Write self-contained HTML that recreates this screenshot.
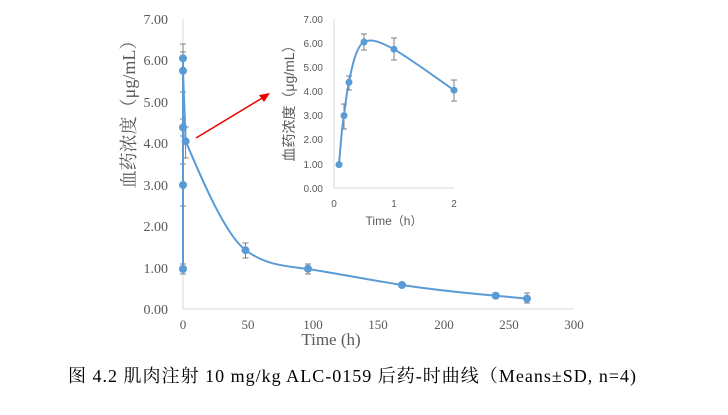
<!DOCTYPE html>
<html><head><meta charset="utf-8"><style>
body{margin:0;background:#fff;width:728px;height:410px;overflow:hidden}
</style></head><body>
<svg width="728" height="410" xmlns="http://www.w3.org/2000/svg" font-family="'Liberation Serif','Noto Serif CJK SC',serif">
<g fill="#595959" font-size="14" text-anchor="end">
<text x="168" y="314">0.00</text><text x="168" y="273">1.00</text><text x="168" y="231">2.00</text>
<text x="168" y="190">3.00</text><text x="168" y="148">4.00</text><text x="168" y="107">5.00</text>
<text x="168" y="65">6.00</text><text x="168" y="24">7.00</text>
</g>
<g fill="#595959" font-size="13" text-anchor="middle">
<text x="183" y="329">0</text><text x="248" y="329">50</text><text x="313" y="329">100</text>
<text x="378" y="329">150</text><text x="444" y="329">200</text><text x="509" y="329">250</text><text x="574" y="329">300</text>
</g>
<text x="331" y="345" font-size="17" fill="#595959" text-anchor="middle">Time (h)</text>
<text transform="translate(135,110) rotate(-90)" font-size="18" fill="#595959" text-anchor="middle">血药浓度（μg/mL）</text>
<line x1="183" y1="19" x2="183" y2="309" stroke="#d9d9d9"/>
<line x1="183" y1="309" x2="574" y2="309" stroke="#d9d9d9"/>
<g stroke="#7f7f7f" stroke-width="1">
<path d="M183 264v10M180 264h6M180 274h6M183 164v42M180 164h6M180 206h6M183 119v17M180 119h6M180 136h6M183 44v28M180 44h6M180 72h6M183 52v40M180 52h6M180 92h6M185.6 127v31M182.6 127h6M182.6 158h6M245.5 243v15M242.5 243h6M242.5 258h6M308 264v10M305 264h6M305 274h6M495.7 293v5M492.7 293h6M492.7 298h6M527 293v10M524 293h6M524 303h6"/>
</g>
<path d="M183 269 L183 185 L183 127 L183 58 L183 71 L185.6 141 C200 175 225 235 245.5 250 C265 265 285 266 308 269 C340 274 370 280 402 285 C435 290 465 293 495.7 295.7 L527 298.6" fill="none" stroke="#5b9bd5" stroke-width="2"/>
<g fill="#5b9bd5">
<circle cx="183" cy="269" r="4"/><circle cx="183" cy="185" r="4"/><circle cx="183" cy="127.5" r="4"/>
<circle cx="183" cy="58.3" r="4"/><circle cx="183" cy="70.8" r="4"/><circle cx="185.6" cy="141.2" r="4"/>
<circle cx="245.5" cy="250.2" r="4"/><circle cx="308" cy="268.8" r="4"/><circle cx="402" cy="285" r="4"/>
<circle cx="495.7" cy="295.7" r="4"/><circle cx="527" cy="298.6" r="4"/>
</g>
<line x1="196" y1="138" x2="264" y2="97" stroke="#e00" stroke-width="1.5"/>
<polygon points="270,93 259,95 264,102" fill="#e00"/>
<g font-family="'Liberation Sans',sans-serif" fill="#595959" font-size="10" text-anchor="end">
<text x="323" y="192">0.00</text><text x="323" y="168">1.00</text><text x="323" y="143">2.00</text>
<text x="323" y="119">3.00</text><text x="323" y="95">4.00</text><text x="323" y="71">5.00</text>
<text x="323" y="47">6.00</text><text x="323" y="23">7.00</text>
</g>
<g font-family="'Liberation Sans',sans-serif" fill="#595959" font-size="10" text-anchor="middle">
<text x="334" y="207">0</text><text x="394" y="207">1</text><text x="454" y="207">2</text>
</g>
<text x="394" y="225" font-family="'Liberation Sans','Noto Sans CJK SC',sans-serif" font-size="12" fill="#595959" text-anchor="middle">Time（h）</text>
<text transform="translate(294,100) rotate(-90)" font-family="'Liberation Sans','Noto Sans CJK SC',sans-serif" font-size="14" fill="#595959" text-anchor="middle">血药浓度（μg/mL）</text>
<line x1="334" y1="19" x2="334" y2="188" stroke="#d9d9d9"/>
<line x1="334" y1="188" x2="454" y2="188" stroke="#d9d9d9"/>
<g stroke="#7f7f7f">
<path d="M344 104v25M341 104h6M341 129h6M349 76v14M346 76h6M346 90h6M364 34v16M361 34h6M361 50h6M394 38v22M391 38h6M391 60h6M454 80v21M451 80h6M451 101h6"/>
</g>
<path d="M339 164.6 C341 140 342 125 344 115.6 C346 100 347 90 349 82.3 C353 60 358 45 364 42 C372 38 380 42 394 49.2 C415 62 435 77 454 90.2" fill="none" stroke="#5b9bd5" stroke-width="2"/>
<g fill="#5b9bd5">
<circle cx="339" cy="164.6" r="3.5"/><circle cx="344" cy="115.6" r="3.5"/><circle cx="349" cy="82.3" r="3.5"/>
<circle cx="364" cy="42" r="3.5"/><circle cx="394" cy="49.2" r="3.5"/><circle cx="454" cy="90.2" r="3.5"/>
</g>
<text x="352" y="382" font-size="18" fill="#000" text-anchor="middle" textLength="568" lengthAdjust="spacing">图 4.2  肌肉注射 10 mg/kg ALC-0159 后药-时曲线（Means±SD, n=4)</text>
</svg>
</body></html>
